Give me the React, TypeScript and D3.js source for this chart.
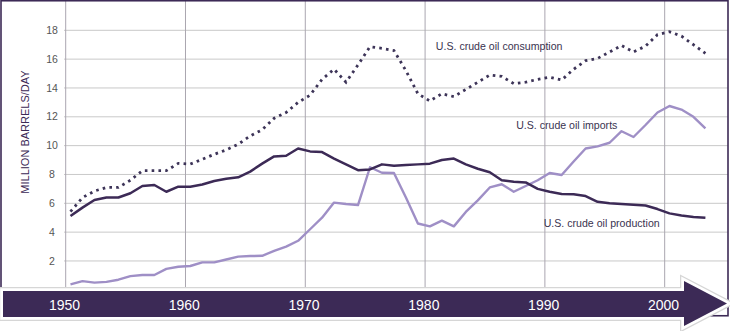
import React from "react";
import * as d3 from "d3";

const startYear = 1950;
const production = [
  5.12, 5.7, 6.23, 6.4, 6.4, 6.7, 7.2, 7.27, 6.8, 7.15,
  7.15, 7.3, 7.55, 7.7, 7.8, 8.2, 8.75, 9.25, 9.3, 9.8,
  9.6, 9.55, 9.1, 8.7, 8.3, 8.35, 8.7, 8.6, 8.65, 8.7,
  8.75, 9.0, 9.1, 8.7, 8.4, 8.15, 7.6, 7.5, 7.45, 7.0,
  6.8, 6.65, 6.63, 6.5, 6.1, 6.0, 5.95, 5.9, 5.85, 5.6,
  5.3, 5.15, 5.05, 5.0,
];
const imports = [
  0.38, 0.6, 0.5, 0.55, 0.7, 0.95, 1.03, 1.03, 1.45, 1.6,
  1.65, 1.9, 1.9, 2.1, 2.3, 2.34, 2.36, 2.7, 3.0, 3.4,
  4.2, 5.0, 6.05, 5.95, 5.88, 8.5, 8.12, 8.1, 6.4, 4.6,
  4.4, 4.8, 4.4, 5.4, 6.2, 7.1, 7.32, 6.8, 7.2, 7.6,
  8.1, 7.96, 8.9, 9.8, 9.95, 10.2, 11.0, 10.6, 11.43, 12.3,
  12.75, 12.5, 12.0, 11.2,
];
const consumption = [
  5.42, 6.4, 6.85, 7.1, 7.1, 7.6, 8.26, 8.26, 8.26, 8.77,
  8.72, 9.05, 9.4, 9.7, 10.1, 10.67, 11.1, 11.9, 12.3, 13.0,
  13.5, 14.6, 15.3, 14.4, 15.6, 16.86, 16.75, 16.6, 15.2, 13.6,
  13.1, 13.6, 13.4, 13.9, 14.4, 14.9, 14.8, 14.3, 14.4, 14.6,
  14.75, 14.55, 15.3, 15.9, 16.05, 16.5, 16.95, 16.5, 16.9, 17.7,
  17.9, 17.6, 17.0, 16.4,
];
const yTicks = [2, 4, 6, 8, 10, 12, 14, 16, 18];
const xTicks = [1950, 1960, 1970, 1980, 1990, 2000];
const yTitle = "MILLION BARRELS/DAY";
const seriesLabels = [
  { text: "U.S. crude oil consumption", year: 1981.0, value: 16.9 },
  { text: "U.S. crude oil imports", year: 1987.7, value: 11.4 },
  { text: "U.S. crude oil production", year: 1990.0, value: 4.6 },
];

const W = 730;
const H = 331;
const DARK = "#3c2a56";
const LIGHT = "#9f8fc6";

export default function App() {
  const x = d3.scaleLinear().domain([1950, 2004]).range([64.5, 711.4]);
  const y = d3.scaleLinear().domain([0, 18]).range([289.8, 30.3]);
  const toPts = (arr: number[]) => arr.map((v, i) => [startYear + i + 0.5, v] as [number, number]);
  const line = d3
    .line<[number, number]>()
    .x((d) => x(d[0]))
    .y((d) => y(d[1]));

  const left = 64;
  const right = 728;
  const arrowPath = "M3,291 L684,291 L684,281 L727,303.5 L684,326 L684,317 L3,317 Z";

  return (
    <svg
      width={W}
      height={H}
      style={{ position: "absolute", left: 0, top: 0, display: "block" }}
      fontFamily="'Liberation Sans', Arial, sans-serif"
    >
      <rect x={0} y={0} width={W} height={H} fill="#fff" />
      {/* horizontal grid */}
      {yTicks.map((t) => (
        <line key={"h" + t} x1={left} x2={right} y1={y(t)} y2={y(t)} stroke="#c9c9c9" strokeWidth={1} />
      ))}
      {/* vertical grid */}
      {xTicks.map((t) => (
        <line key={"v" + t} x1={x(t) + 1.2} x2={x(t) + 1.2} y1={1} y2={289} stroke="#aaa6b0" strokeWidth={1} />
      ))}
      {/* frame */}
      <rect x={1} y={0.75} width={727} height={315} fill="none" stroke={DARK} strokeWidth={1.6} />
      {/* y tick labels */}
      {yTicks.map((t) => (
        <text key={"yl" + t} x={52} y={y(t)} dy="0.35em" textAnchor="middle" fontSize={10.5} fill="#555">
          {t}
        </text>
      ))}
      <text
        transform={`translate(28.5,132) rotate(-90)`}
        textAnchor="middle"
        fontSize={11}
        fill={DARK}
      >
        {yTitle}
      </text>
      {/* series */}
      <path d={line(toPts(imports)) || ""} fill="none" stroke={LIGHT} strokeWidth={2.4} strokeLinejoin="round" />
      <path d={line(toPts(production)) || ""} fill="none" stroke={DARK} strokeWidth={2.5} strokeLinejoin="round" />
      <path
        d={line(toPts(consumption)) || ""}
        fill="none"
        stroke="#3d3458"
        strokeWidth={2.8}
        strokeDasharray="2.6 4.2"
      />
      {seriesLabels.map((l) => (
        <text key={l.text} x={x(l.year)} y={y(l.value)} dy="0.35em" fontSize={10.6} fill="#3a3350">
          {l.text}
        </text>
      ))}
      {/* arrow axis */}
      <path d={arrowPath} fill="none" stroke="#d6d6d6" strokeWidth={8} strokeLinejoin="miter" />
      <path d={arrowPath} fill="none" stroke="#ffffff" strokeWidth={5.5} strokeLinejoin="miter" />
      <path d={arrowPath} fill={DARK} />
      {xTicks.map((t) => (
        <text key={"xl" + t} x={x(t)} y={305} dy="0.36em" textAnchor="middle" fontSize={14} fill="#ffffff">
          {t}
        </text>
      ))}
    </svg>
  );
}
